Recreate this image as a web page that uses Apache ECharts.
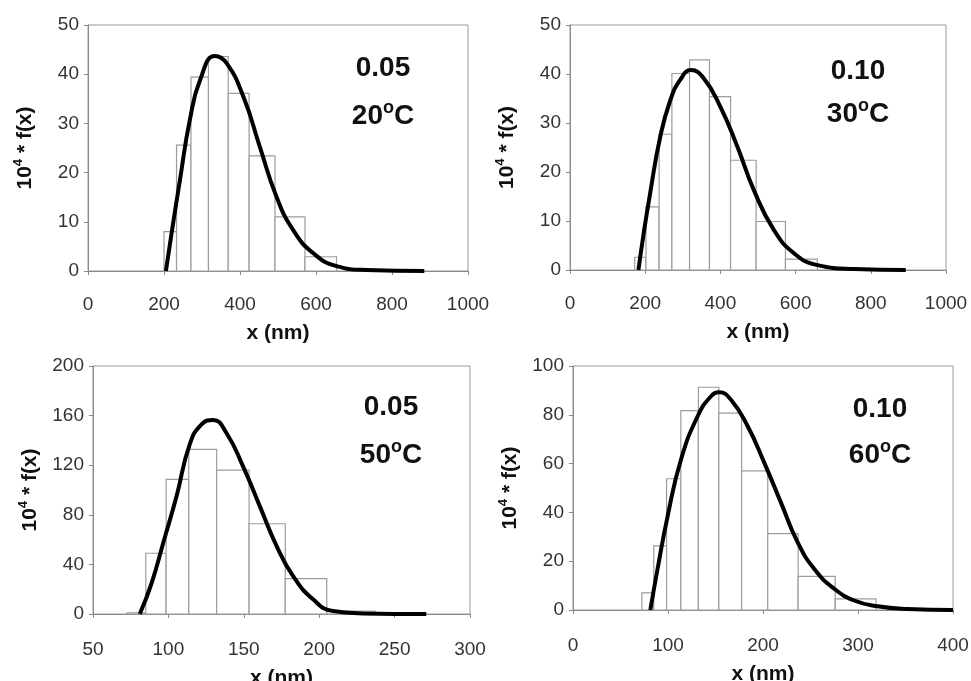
<!DOCTYPE html>
<html lang="en">
<head>
    <meta charset="utf-8">
    <title>Size distributions</title>
    <script src="https://cdn.jsdelivr.net/npm/echarts@6/dist/echarts.min.js"></script>
    <style>
        html, body { margin: 0; padding: 0; background: #fff; }
        #main { width: 971px; height: 681px; }
    </style>
</head>
<body>
<div id="main"></div>
<script type="text/javascript">
    // panel 1: 0.05, 20 C
    var edges1 = [200, 233, 271, 317, 369, 424, 492, 571, 654];
    var heights1 = [8.0, 25.6, 39.4, 43.6, 36.1, 23.4, 11.0, 2.9];
    var curve1X = [205, 220, 242, 268, 295, 334, 365, 409, 452, 496, 540, 593, 654, 733, 885];
    var curve1Y = [0, 7.7, 18.5, 30.7, 38.8, 43.7, 42.2, 35.4, 25.3, 15.1, 8.3, 3.6, 1.0, 0.2, 0];

    // panel 2: 0.10, 30 C
    var edges2 = [172, 202, 237, 271, 318, 371, 427, 495, 573, 658];
    var heights2 = [2.6, 12.9, 27.7, 40.1, 42.9, 35.4, 22.4, 9.9, 2.2];
    var curve2X = [182, 196, 213, 240, 267, 293, 322, 356, 400, 445, 489, 542, 596, 658, 756, 893];
    var curve2Y = [0, 7.5, 15.6, 27.2, 34.7, 38.8, 40.8, 39.1, 33.3, 25.2, 16.3, 8.2, 3.4, 1.0, 0.2, 0];

    // panel 3: 0.05, 50 C
    var edges3 = [72.5, 85, 98.5, 113.5, 132, 153.5, 177.5, 205, 237];
    var heights3 = [1, 49, 108.6, 132.8, 116, 72.8, 28.5, 2.4];
    var curve3X = [81, 88.9, 96.6, 105.4, 114.2, 122, 129.7, 138.5, 149.5, 160.6, 171.7, 182.7, 195.9, 209.1, 229, 271];
    var curve3Y = [0, 25, 57.5, 95, 137, 153, 156.5, 146, 119, 87, 55, 30.6, 11.8, 2.4, 0.5, 0];

    // panel 4: 0.10, 60 C
    var edges4 = [72.5, 85, 98.5, 113.5, 132, 153.5, 177.5, 205, 237, 276, 319];
    var heights4 = [7.0, 26.3, 53.8, 81.7, 91.3, 80.7, 57, 31.3, 13.8, 4.6];
    var curve4X = [81.4, 89, 99.7, 113.7, 131.2, 145.3, 154, 166.3, 183.9, 201.4, 218.9, 236.5, 254, 275, 296, 320.7, 352, 400];
    var curve4Y = [0, 16.8, 38.6, 61.7, 79.4, 87.6, 89.2, 86.2, 75.3, 60.3, 44, 27.7, 16.8, 8.7, 3.9, 1.5, 0.4, 0];

    var xRanges = [[0, 1000, 200], [0, 1000, 200], [50, 300, 50], [0, 400, 100]];
    var yRanges = [[0, 50, 10], [0, 50, 10], [0, 200, 40], [0, 100, 20]];
    var labels1 = ['0.05', '0.10', '0.05', '0.10'];
    var labels2 = ['20', '30', '50', '60'];

    var grids = [
        {left: 88, top: 25, width: 380, height: 246},
        {left: 570, top: 25, width: 376, height: 245},
        {left: 93, top: 366, width: 377, height: 248},
        {left: 573, top: 366, width: 380, height: 244}
    ];
    // x label margin / name gap per panel
    var xMargins = [24, 24, 26, 26];
    var xNameGaps = [52, 52, 54, 54];
    // annotation centres: x, y of first line, y of second line
    var notePos = [[383, 68, 116], [858, 71, 114], [391, 407, 455], [880, 409, 455]];

    var allEdges = [edges1, edges2, edges3, edges4];
    var allHeights = [heights1, heights2, heights3, heights4];
    var allCX = [curve1X, curve2X, curve3X, curve4X];
    var allCY = [curve1Y, curve2Y, curve3Y, curve4Y];

    var font = 'Liberation Sans, Arial, sans-serif';

    function renderBar(params, api) {
        var p0 = api.coord([api.value(0), api.value(2)]);
        var p1 = api.coord([api.value(1), 0]);
        return {
            type: 'rect',
            shape: {x: p0[0], y: p0[1], width: p1[0] - p0[0], height: p1[1] - p0[1]},
            style: {fill: '#fff', stroke: '#9c9c9c', lineWidth: 1.2}
        };
    }

    var gridList = [], xAxes = [], yAxes = [], series = [], graphics = [];
    for (var i = 0; i < 4; i++) {
        var g = grids[i];
        gridList.push({left: g.left, top: g.top, width: g.width, height: g.height,
            outerBoundsMode: 'none', containLabel: false,
            show: true, borderColor: '#9a9a9a', borderWidth: 1, backgroundColor: '#fff'});
        xAxes.push({
            type: 'value', gridIndex: i,
            min: xRanges[i][0], max: xRanges[i][1], interval: xRanges[i][2],
            name: 'x (nm)', nameLocation: 'middle', nameGap: xNameGaps[i],
            nameTextStyle: {fontFamily: font, fontWeight: 'bold', fontSize: 21, color: '#111'},
            axisLine: {onZero: false, lineStyle: {color: '#8a8a8a', width: 1}},
            axisTick: {show: true, inside: false, length: 4, lineStyle: {color: '#8a8a8a'}},
            axisLabel: {margin: xMargins[i], fontFamily: font, fontSize: 19, color: '#333',
                formatter: function (v) { return String(v); }},
            splitLine: {show: false}
        });
        yAxes.push({
            type: 'value', gridIndex: i,
            min: yRanges[i][0], max: yRanges[i][1], interval: yRanges[i][2],
            name: '{a|10}{s|4}{a| * f(x)}', nameLocation: 'middle', nameGap: 50, nameRotate: 90,
            nameTextStyle: {
                rich: {
                    a: {fontFamily: font, fontWeight: 'bold', fontSize: 21, color: '#111', lineHeight: 26},
                    s: {fontFamily: font, fontWeight: 'bold', fontSize: 13, color: '#111', lineHeight: 13, verticalAlign: 'top'}
                }
            },
            axisLine: {show: true, lineStyle: {color: '#8a8a8a', width: 1}},
            axisTick: {show: true, inside: false, length: 4, lineStyle: {color: '#8a8a8a'}},
            axisLabel: {margin: 9, fontFamily: font, fontSize: 19, color: '#333'},
            splitLine: {show: false}
        });

        var barData = [];
        for (var k = 0; k < allHeights[i].length; k++) {
            barData.push([allEdges[i][k], allEdges[i][k + 1], allHeights[i][k]]);
        }
        series.push({
            type: 'custom', xAxisIndex: i, yAxisIndex: i,
            renderItem: renderBar, encode: {x: [0, 1], y: 2},
            data: barData, z: 2, silent: true
        });

        var lineData = [];
        for (var k = 0; k < allCX[i].length; k++) {
            lineData.push([allCX[i][k], allCY[i][k]]);
        }
        series.push({
            type: 'line', xAxisIndex: i, yAxisIndex: i,
            data: lineData, smooth: 0.5,
            symbol: 'none', lineStyle: {color: '#000', width: 4}, z: 5, silent: true
        });

        var np = notePos[i];
        graphics.push({
            type: 'text', x: np[0], y: np[1], z: 100,
            style: {text: labels1[i], align: 'center', verticalAlign: 'middle',
                fontFamily: font, fontWeight: 'bold', fontSize: 28, fill: '#111'}
        });
        graphics.push({
            type: 'text', x: np[0], y: np[2], z: 100,
            style: {
                text: '{a|' + labels2[i] + '}{s|o}{a|C}',
                align: 'center', verticalAlign: 'middle',
                rich: {
                    a: {fontFamily: font, fontWeight: 'bold', fontSize: 28, fill: '#111', lineHeight: 34},
                    s: {fontFamily: font, fontWeight: 'bold', fontSize: 18, fill: '#111', lineHeight: 18, verticalAlign: 'top'}
                }
            }
        });
    }

    var chart = echarts.init(document.getElementById('main'), null, {renderer: 'canvas'});
    chart.setOption({
        backgroundColor: '#fff',
        animation: false,
        grid: gridList,
        xAxis: xAxes,
        yAxis: yAxes,
        series: series,
        graphic: graphics
    });
</script>
</body>
</html>
